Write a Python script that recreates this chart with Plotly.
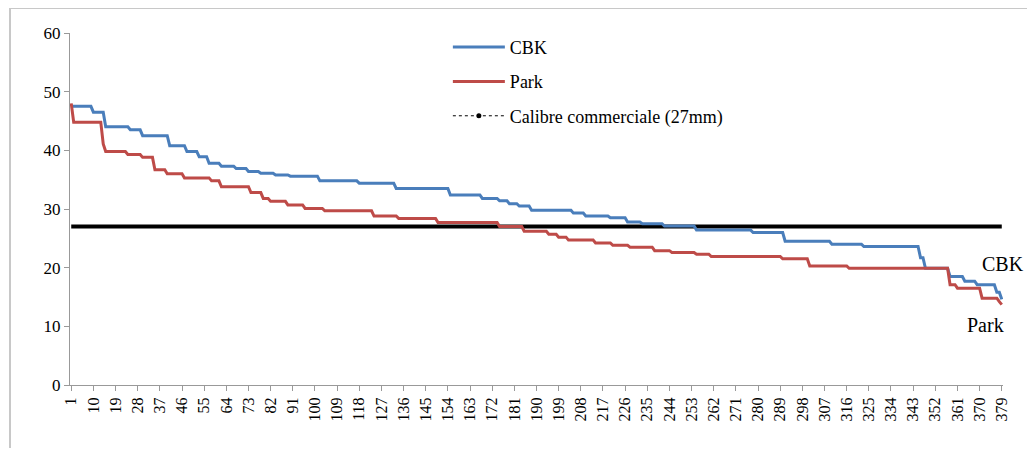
import plotly.graph_objects as go

N = 379
# Run-length description of the step curves: (start index, value)
cbk_starts = [1, 10, 15, 25, 30, 41, 48, 53, 57, 62, 68, 73, 78, 84, 90, 102, 118, 133, 155, 168,
              175, 179, 183, 188, 205, 210, 220, 227, 233, 242, 255, 278, 291, 310, 323, 346, 348,
              358, 364, 369, 377, 379]
cbk_values = [47.5, 46.5, 44.0, 43.5, 42.5, 40.8, 39.8, 38.9, 37.8, 37.3, 36.9, 36.4, 36.1, 35.8,
              35.6, 34.8, 34.4, 33.5, 32.4, 31.8, 31.4, 30.9, 30.5, 29.8, 29.3, 28.8, 28.5, 27.8,
              27.5, 27.1, 26.4, 26.0, 24.5, 24.0, 23.6, 21.7, 19.9, 18.5, 17.7, 17.1, 15.8, 14.6]

park_starts = [1, 2, 14, 15, 24, 30, 35, 40, 47, 58, 62, 74, 79, 82, 89, 96, 104, 124, 134, 150,
               175, 185, 195, 199, 203, 214, 221, 228, 238, 245, 255, 261, 290, 301, 317, 358, 361,
               371, 378, 379]
park_values = [48.0, 44.8, 41.1, 39.8, 39.3, 38.8, 36.7, 36.0, 35.3, 34.8, 33.8, 32.8, 31.8, 31.3,
               30.7, 30.1, 29.7, 28.8, 28.4, 27.7, 27.0, 26.2, 25.7, 25.2, 24.7, 24.2, 23.8, 23.5,
               22.9, 22.6, 22.3, 21.9, 21.5, 20.3, 19.9, 17.1, 16.5, 14.8, 14.2, 13.7]

calibre_value = 27

tick_labels = [str(v) for v in range(1, N + 1, 9)]


def expand(starts, values, n):
    out = []
    for k, s in enumerate(starts):
        e = starts[k + 1] if k + 1 < len(starts) else n + 1
        out += [values[k]] * (e - s)
    return out


x = list(range(1, N + 1))
cbk = expand(cbk_starts, cbk_values, N)
park = expand(park_starts, park_values, N)
calibre = [calibre_value] * N

font = "Liberation Serif"

fig = go.Figure()
fig.add_trace(go.Scatter(x=x, y=calibre, mode="lines", line=dict(color="black", width=4),
                         showlegend=False, hoverinfo="skip"))
fig.add_trace(go.Scatter(x=x, y=cbk, mode="lines", name="CBK", legendgroup="a",
                         line=dict(color="#4a7ebb", width=3)))
fig.add_trace(go.Scatter(x=x, y=park, mode="lines", name="Park", legendgroup="b",
                         line=dict(color="#be4b48", width=3)))
fig.add_trace(go.Scatter(x=[None], y=[None], mode="lines+markers", name="Calibre commerciale (27mm)",
                         legendgroup="c",
                         line=dict(color="black", width=1, dash="dot"),
                         marker=dict(color="black", size=5)))

fig.update_layout(
    width=1019, height=440,
    margin=dict(l=62, r=24, t=25, b=63),
    paper_bgcolor="white", plot_bgcolor="white",
    font=dict(family=font, size=16, color="black"),
    showlegend=True,
    legend=dict(x=0.405, y=1.012, xanchor="left", yanchor="top",
                font=dict(family=font, size=18, color="black"),
                bgcolor="rgba(0,0,0,0)", traceorder="grouped", tracegroupgap=8,
                itemwidth=52),
    xaxis=dict(range=[0.5, N + 0.5], tickmode="array",
               tickvals=list(range(1, N + 1, 9)), ticktext=tick_labels,
               tickangle=-90, ticks="outside", ticklen=5, tickcolor="#999999",
               showline=True, linecolor="#999999", linewidth=1, showgrid=False,
               zeroline=False, tickfont=dict(family=font, size=16)),
    yaxis=dict(range=[0, 60], dtick=10, ticks="outside", ticklen=5, tickcolor="#999999",
               showline=True, linecolor="#999999", linewidth=1, showgrid=False,
               zeroline=False, tickfont=dict(family=font, size=17)),
    shapes=[dict(type="rect", xref="paper", yref="paper", x0=-0.0643, x1=1.04, y0=-0.213, y1=1.071,
                 line=dict(color="#c8c8c8", width=2), fillcolor="rgba(0,0,0,0)", layer="below")],
    annotations=[
        dict(text="CBK", x=1.0, y=0.344, xref="paper", yref="paper", showarrow=False,
             xanchor="center", yanchor="middle",
             font=dict(family=font, size=20, color="black")),
        dict(text="Park", x=0.981, y=0.170, xref="paper", yref="paper", showarrow=False,
             xanchor="center", yanchor="middle",
             font=dict(family=font, size=20, color="black")),
    ],
)

fig.write_html("out.html")
